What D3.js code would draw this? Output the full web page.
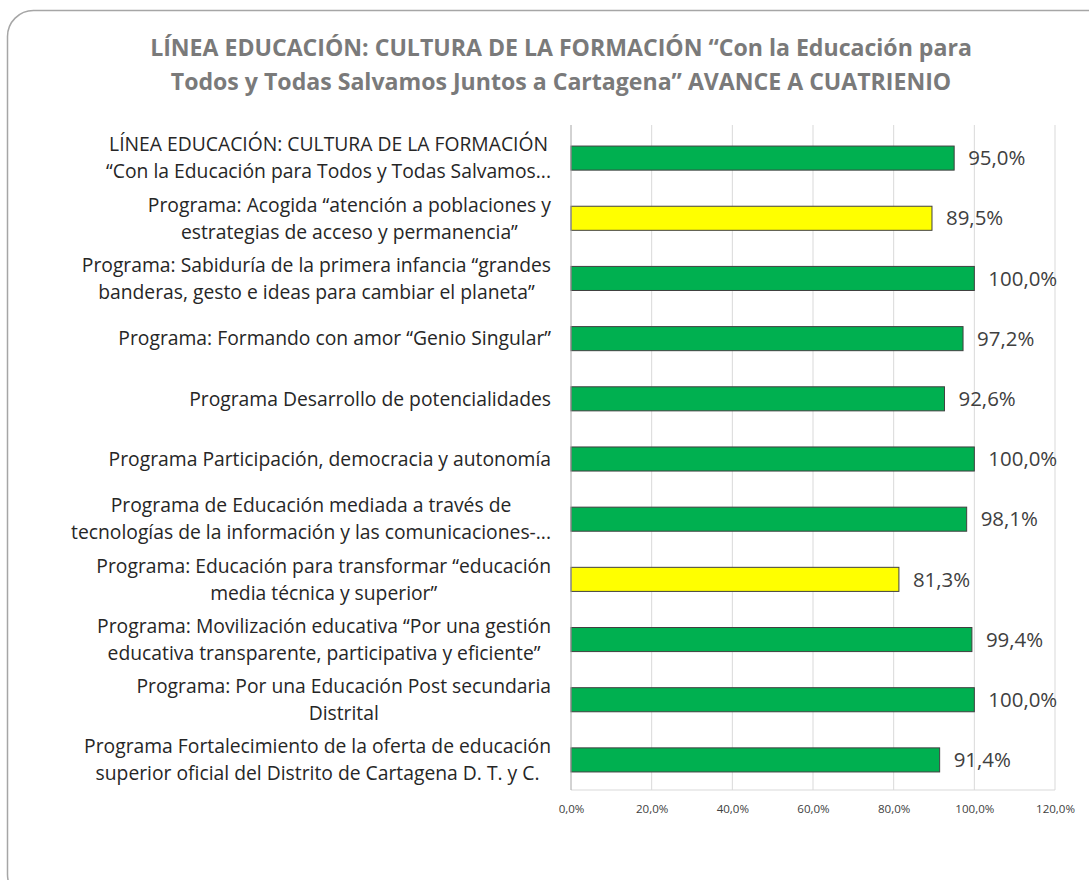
<!DOCTYPE html>
<html><head><meta charset="utf-8">
<script src="https://cdn.jsdelivr.net/npm/d3@7"></script>
<style>body{margin:0;background:#fff;} svg{display:block;}</style>
</head><body>
<svg id="chart" width="1089" height="880"></svg>
<script>
const titleLines = [
  "LÍNEA EDUCACIÓN: CULTURA DE LA FORMACIÓN “Con la Educación para",
  "Todos y Todas Salvamos Juntos a Cartagena” AVANCE A CUATRIENIO"
];
const categories = [
  "LÍNEA EDUCACIÓN: CULTURA DE LA FORMACIÓN\n“Con la Educación para Todos y Todas Salvamos...",
  "Programa: Acogida “atención a poblaciones y\nestrategias de acceso y permanencia”",
  "Programa: Sabiduría de la primera infancia “grandes\nbanderas, gesto e ideas para cambiar el planeta”",
  "Programa: Formando con amor “Genio Singular”",
  "Programa Desarrollo de potencialidades",
  "Programa Participación, democracia y autonomía",
  "Programa de Educación mediada a través de\ntecnologías de la información y las comunicaciones-...",
  "Programa: Educación para transformar “educación\nmedia técnica y superior”",
  "Programa: Movilización educativa “Por una gestión\neducativa transparente, participativa y eficiente”",
  "Programa: Por una Educación Post secundaria\nDistrital",
  "Programa Fortalecimiento de la oferta de educación\nsuperior oficial del Distrito de Cartagena D. T. y C."
];
const values = [0.950, 0.895, 1.000, 0.972, 0.926, 1.000, 0.981, 0.813, 0.994, 1.000, 0.914];
const barColors = ["#00b050","#ffff00","#00b050","#00b050","#00b050","#00b050","#00b050","#ffff00","#00b050","#00b050","#00b050"];
const tickValues = [0, 0.2, 0.4, 0.6, 0.8, 1.0, 1.2];

const loc = d3.formatLocale({decimal: ",", thousands: ".", grouping: [3], currency: ["", ""]});
const fmt = loc.format(".1%");

const svg = d3.select("#chart");
const FONT = "'Open Sans', 'Noto Sans', sans-serif";

function fitSize(sample, target, weight) {
  const t = svg.append("text").attr("font-family", FONT).attr("font-size", 100)
    .attr("font-weight", weight || "normal").text(sample);
  const w = t.node().getComputedTextLength();
  t.remove();
  return 100 * target / w;
}
const titleSize = fitSize(titleLines[0], 822, "bold");
const catSize = fitSize("Programa Desarrollo de potencialidades", 362);
const labelSize = fitSize("100,0%", 69);
const tickSize = fitSize("100,0%", 39);

// frame
svg.append("rect")
  .attr("x", 7.5).attr("y", 10.5).attr("width", 1110).attr("height", 890)
  .attr("rx", 26).attr("ry", 26)
  .attr("fill", "#fff").attr("stroke", "#a6a6a6").attr("stroke-width", 1.5);

// title
svg.append("text")
  .attr("x", 561).attr("y", 56)
  .attr("text-anchor", "middle")
  .attr("font-family", FONT).attr("font-weight", "bold").attr("font-size", titleSize)
  .attr("fill", "#7a7a7a")
  .selectAll("tspan").data(titleLines).join("tspan")
  .attr("x", 561).attr("dy", (d, i) => i === 0 ? 0 : 34)
  .text(d => d);

const x = d3.scaleLinear().domain([0, 1.2]).range([571, 1055]);
const y = d3.scaleBand().domain(categories).range([128, 790]).paddingInner(0.6).paddingOuter(0.3);

// gridlines
svg.append("g").selectAll("line").data(tickValues.slice(1)).join("line")
  .attr("x1", d => x(d)).attr("x2", d => x(d))
  .attr("y1", 125).attr("y2", 790)
  .attr("stroke", "#d9d9d9").attr("stroke-width", 1);

// bottom line
svg.append("line").attr("x1", x(0)).attr("x2", x(1.2)).attr("y1", 790).attr("y2", 790)
  .attr("stroke", "#d9d9d9").attr("stroke-width", 1);

// x axis labels
const xAxis = d3.axisBottom(x).tickValues(tickValues).tickFormat(fmt).tickSize(0).tickPadding(0);
const gx = svg.append("g").attr("transform", "translate(0,805)").call(xAxis);
gx.select(".domain").remove();
gx.selectAll("text").attr("font-family", FONT).attr("font-size", tickSize).attr("fill", "#404040");

// bars
svg.append("g").selectAll("rect").data(values).join("rect")
  .attr("x", x(0))
  .attr("y", (d, i) => y(categories[i]))
  .attr("width", d => x(d) - x(0))
  .attr("height", y.bandwidth())
  .attr("fill", (d, i) => barColors[i])
  .attr("stroke", "#404040").attr("stroke-width", 1);

// left axis line
svg.append("line").attr("x1", x(0)).attr("x2", x(0)).attr("y1", 125).attr("y2", 790)
  .attr("stroke", "#a6a6a6").attr("stroke-width", 1);

// data labels
svg.append("g").selectAll("text").data(values).join("text")
  .attr("x", d => x(d) + 14)
  .attr("y", (d, i) => y(categories[i]) + y.bandwidth() / 2)
  .attr("dy", "0.35em")
  .attr("font-family", FONT).attr("font-size", labelSize).attr("fill", "#404040")
  .text(d => fmt(d));

// category labels: block right-aligned, lines centred within block
const yAxis = d3.axisLeft(y).tickSize(0).tickPadding(20).tickFormat("");
const gy = svg.append("g").attr("transform", `translate(${x(0)},0)`).call(yAxis);
gy.select(".domain").remove();
gy.selectAll(".tick").each(function(d) {
  const lines = d.split("\n");
  const t = d3.select(this).append("text")
    .attr("text-anchor", "middle")
    .attr("font-family", FONT).attr("font-size", catSize).attr("fill", "#262626");
  const lh = 27;
  const spans = lines.map((ln, i) => t.append("tspan")
      .attr("y", (i - (lines.length - 1) / 2) * lh)
      .attr("dy", "0.35em").text(ln));
  const maxW = d3.max(spans, s => s.node().getComputedTextLength());
  const cx = -20 - maxW / 2;
  spans.forEach(s => s.attr("x", cx));
});
</script>
</body></html>
